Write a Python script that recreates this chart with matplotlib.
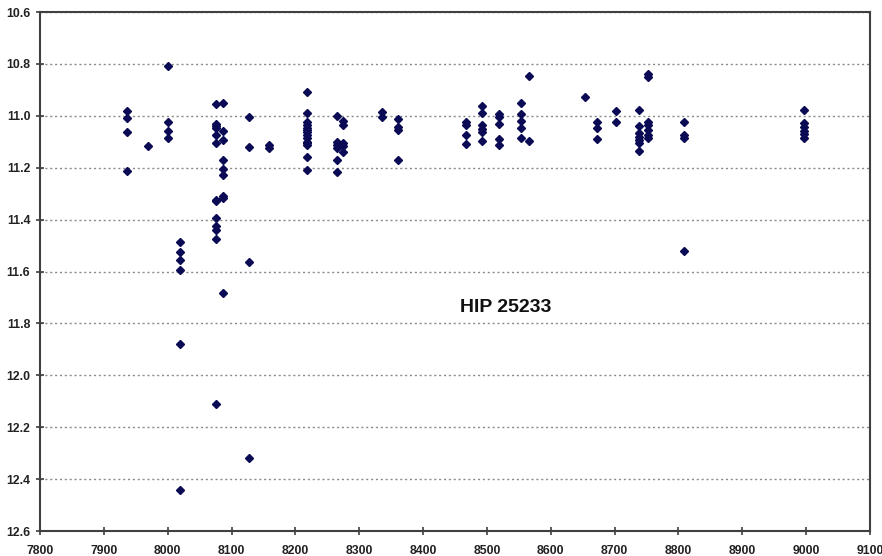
import matplotlib
matplotlib.use("Agg")
import matplotlib.pyplot as plt
from matplotlib.ticker import MultipleLocator, FormatStrFormatter

# Observation groups: (date, magnitudes)
dates = [7937, 7969, 8000, 8020, 8075, 8086, 8128, 8158, 8218, 8265, 8274,
         8335, 8360, 8468, 8493, 8519, 8553, 8566, 8654, 8672, 8702, 8738,
         8753, 8809, 8997]
mags = [
    [10.982, 11.010, 11.062, 11.213],
    [11.115],
    [10.808, 11.025, 11.060, 11.086],
    [11.485, 11.526, 11.557, 11.595, 11.878, 12.442],
    [10.956, 11.030, 11.038, 11.047, 11.075, 11.106, 11.323, 11.328, 11.394,
     11.425, 11.440, 11.475, 12.109],
    [10.950, 11.057, 11.093, 11.169, 11.205, 11.229, 11.309, 11.317, 11.683],
    [11.003, 11.120, 11.565, 12.319],
    [11.113, 11.123],
    [10.908, 10.991, 11.023, 11.035, 11.048, 11.055, 11.061, 11.074, 11.087,
     11.100, 11.106, 11.113, 11.158, 11.209],
    [11.001, 11.100, 11.113, 11.125, 11.170, 11.215],
    [11.021, 11.035, 11.106, 11.116, 11.140],
    [10.984, 11.003],
    [11.013, 11.042, 11.055, 11.170],
    [11.024, 11.037, 11.075, 11.108],
    [10.962, 10.990, 11.035, 11.052, 11.061, 11.096],
    [10.994, 11.003, 11.033, 11.091, 11.113],
    [10.950, 10.993, 11.019, 11.046, 11.087],
    [10.847, 11.096],
    [10.929],
    [11.023, 11.046, 11.088],
    [10.982, 11.025],
    [10.978, 11.038, 11.067, 11.081, 11.093, 11.106, 11.135],
    [10.839, 10.852, 11.023, 11.035, 11.055, 11.074, 11.084],
    [11.023, 11.074, 11.087, 11.521],
    [10.978, 11.027, 11.042, 11.057, 11.070, 11.084],
]
title = "HIP 25233"
xticks = list(range(7800, 9101, 100))

xs, ys = [], []
for d, ms in zip(dates, mags):
    for m in ms:
        xs.append(d)
        ys.append(m)

plt.rcParams['font.family'] = ['Liberation Sans', 'DejaVu Sans']

fig = plt.figure(figsize=(8.82, 5.56), dpi=100)
ax = fig.add_axes([40/882, 1 - 531/556, 830/882, 519/556])

ax.plot(xs, ys, linestyle='none', marker='D', markersize=4.3,
        markerfacecolor='#0b0b55', markeredgecolor='#0b0b55', zorder=3)

ax.set_xlim(7800, 9100)
ax.set_ylim(12.6, 10.6)
ax.set_xticks(xticks)
ax.yaxis.set_major_locator(MultipleLocator(0.2))
ax.yaxis.set_major_formatter(FormatStrFormatter('%.1f'))
ax.grid(axis='y', linestyle=(0, (1.5, 2)), color='#8a8a8a', linewidth=1.0, zorder=1)
ax.set_axisbelow(True)

for s in ax.spines.values():
    s.set_color('#404040')
    s.set_linewidth(1.5)

ax.tick_params(axis='both', direction='inout', length=6, width=1.2,
               color='#404040', labelsize=8.8, labelcolor='#222222')
ax.tick_params(axis='x', pad=7)
ax.tick_params(axis='y', pad=4)
for lab in ax.get_xticklabels() + ax.get_yticklabels():
    lab.set_fontweight('bold')

ax.text(8530, 11.74, title, fontsize=14, fontweight='bold', color='#111111',
        ha='center', va='center')

fig.savefig('out.png', dpi=100)
